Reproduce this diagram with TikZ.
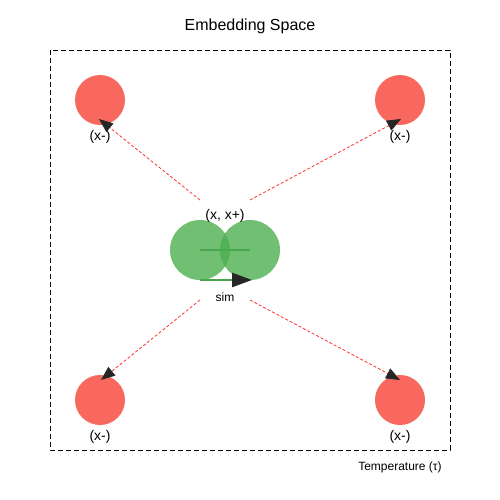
\documentclass[tikz,border=0pt]{standalone}
\usepackage{fontspec}
\setmainfont{Liberation Sans}
\usetikzlibrary{arrows.meta, positioning}

\definecolor{negred}{RGB}{248,104,94}
\definecolor{posgreen}{RGB}{76,175,80}

\begin{document}
\begin{tikzpicture}[x=1pt, y=-1pt,
        negative/.style={circle, fill=negred, minimum size=50pt, inner sep=0pt},
        positive/.style={circle, fill=posgreen, fill opacity=0.8, minimum size=60pt, inner sep=0pt},
        push/.style={draw=red!80!white, dashed, thick, dash pattern=on 3pt off 2pt,
            -{Triangle[length=14pt, width=11pt, color=black!85]}},
        lbl/.style={font=\fontsize{14}{16}\selectfont}]
        \useasboundingbox (0,0) rectangle (500,500);

        % frame and title
        \draw[thick, dash pattern=on 5pt off 3pt] (50,50) rectangle (450,450);
        \node[font=\fontsize{16}{18}\selectfont] (title) at (250,26) {Embedding Space};
        \node[font=\fontsize{12}{14}\selectfont] (temp) at (400,467) {Temperature (τ)};

        % negatives
        \node[negative] (N1) at (100,100) {};
        \node[negative] (N2) at (400,100) {};
        \node[negative] (N3) at (100,400) {};
        \node[negative] (N4) at (400,400) {};
        \node[lbl] at (100,137) {(x-)};
        \node[lbl] at (400,137) {(x-)};
        \node[lbl] at (100,437) {(x-)};
        \node[lbl] at (400,437) {(x-)};

        % positive pair
        \node[positive] (P1) at (200,250) {};
        \node[positive] (P2) at (250,250) {};
        \draw[posgreen!95!black, line width=2.5pt] (P1.center) -- (P2.center);
        \node[lbl] (pair) at (225,216) {(x, x+)};

        % similarity arrow
        \coordinate (s1) at (200,280);
        \coordinate (s2) at (252,280);
        \draw[posgreen!95!black, line width=2.5pt,
            -{Triangle[length=20pt, width=14pt, color=black!85]}] (s1) -- (s2);
        \node[font=\fontsize{12}{14}\selectfont] (sim) at (225,297) {sim};

        % repulsion
        \coordinate (a1) at (200,200);
        \coordinate (a2) at (250,200);
        \coordinate (a3) at (200,300);
        \coordinate (a4) at (250,300);
        \coordinate (t1) at (99,119);
        \coordinate (t2) at (401,119);
        \coordinate (t3) at (101,380);
        \coordinate (t4) at (400,380);
        \draw[push] (a1) -- (t1);
        \draw[push] (a2) -- (t2);
        \draw[push] (a3) -- (t3);
        \draw[push] (a4) -- (t4);
    \end{tikzpicture}
\end{document}
